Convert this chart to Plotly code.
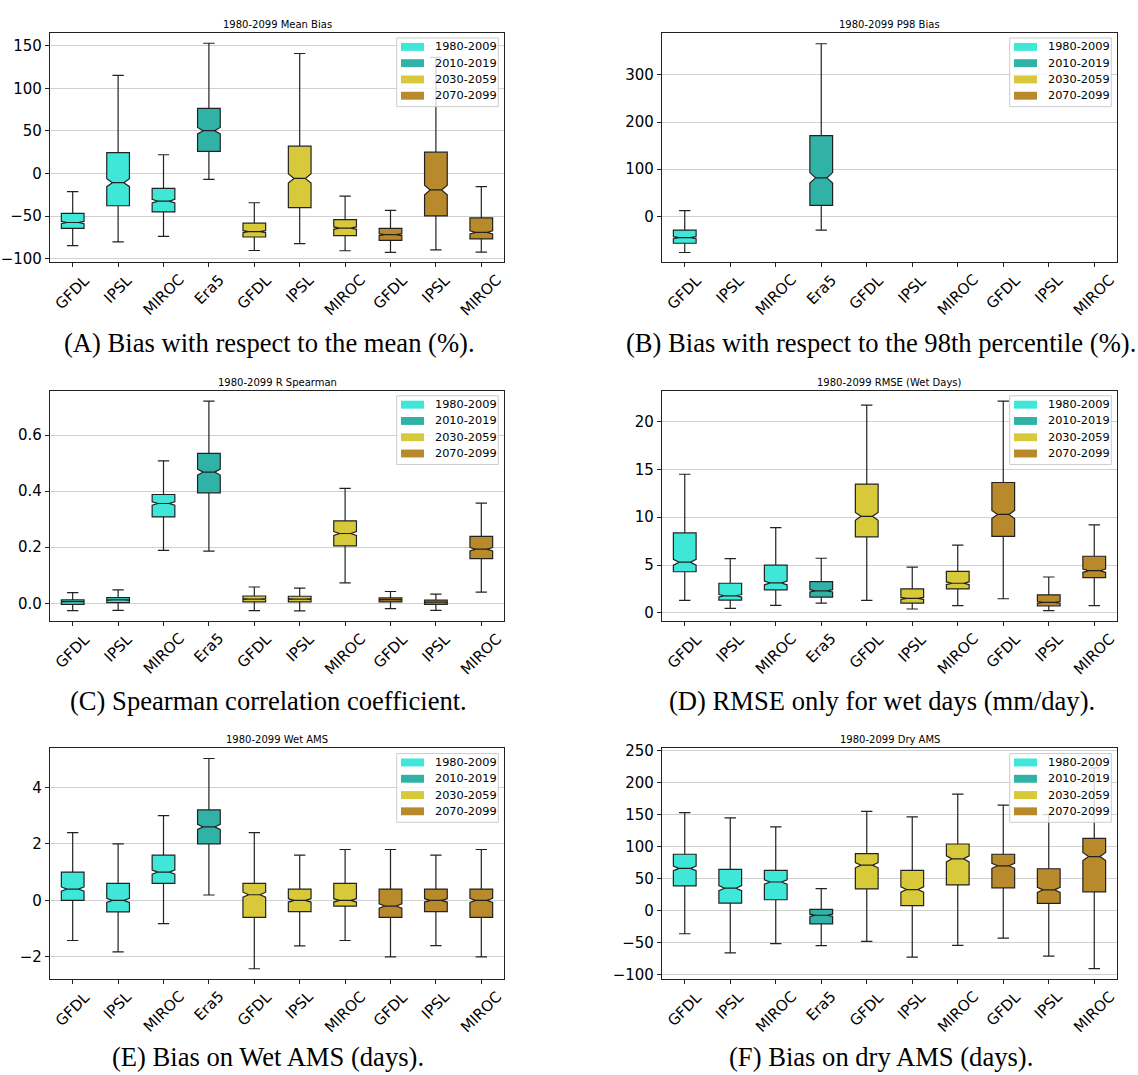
import math
import plotly.graph_objects as go

W, H = 1138, 1075

# ---------------------------------------------------------------- data
models = ["GFDL", "IPSL", "MIROC", "Era5", "GFDL", "IPSL", "MIROC", "GFDL", "IPSL", "MIROC"]
periods = ["1980-2009", "1980-2009", "1980-2009", "2010-2019",
           "2030-2059", "2030-2059", "2030-2059",
           "2070-2099", "2070-2099", "2070-2099"]
period_names = ["1980-2009", "2010-2019", "2030-2059", "2070-2099"]
period_colors = ["#3ee7d7", "#30b3a6", "#d8c93a", "#b98a2b"]

# number of grid points behind each box (used for the notch half-width)
n_samples = 440

# (A) mean bias (%)
mean_lo = [-84.7, -80.4, -73.8, -7.0, -90.5, -82.3, -90.8, -92.8, -89.7, -92.4]
mean_q1 = [-64.6, -37.9, -45.2, 25.9, -74.6, -40.2, -73.1, -78.5, -49.9, -76.9]
mean_med = [-57.6, -10.8, -32.5, 50.3, -68.4, -5.8, -64.2, -71.9, -19.3, -69.2]
mean_q3 = [-46.8, 24.4, -17.4, 76.5, -58.4, 32.1, -54.1, -64.6, 25.1, -52.2]
mean_hi = [-21.3, 115.2, 22.0, 153.0, -34.4, 141.0, -26.7, -43.3, 136.5, -15.5]

# (B) 98th percentile bias (%)
p98_lo = [-76.8, None, None, -29.3, None, None, None, None, None, None]
p98_q1 = [-57.2, None, None, 23.0, None, None, None, None, None, None]
p98_med = [-45.4, None, None, 81.6, None, None, None, None, None, None]
p98_q3 = [-29.3, None, None, 171.0, None, None, None, None, None, None]
p98_hi = [11.9, None, None, 366.0, None, None, None, None, None, None]

# (C) Spearman correlation
rho_lo = [-0.026, -0.025, 0.189, 0.186, -0.026, -0.027, 0.073, -0.019, -0.025, 0.040]
rho_q1 = [-0.004, 0.002, 0.308, 0.394, 0.005, 0.005, 0.205, 0.005, -0.004, 0.159]
rho_med = [0.006, 0.012, 0.356, 0.468, 0.015, 0.015, 0.249, 0.013, 0.004, 0.193]
rho_q3 = [0.012, 0.020, 0.388, 0.535, 0.026, 0.025, 0.294, 0.019, 0.011, 0.239]
rho_hi = [0.038, 0.048, 0.508, 0.721, 0.058, 0.054, 0.410, 0.042, 0.033, 0.357]

# (D) RMSE on wet days (mm/day)
rmse_lo = [1.31, 0.48, 0.79, 1.03, 1.31, 0.41, 0.76, 1.48, 0.24, 0.76]
rmse_q1 = [4.30, 1.34, 2.41, 1.65, 7.95, 1.03, 2.51, 7.99, 0.72, 3.68]
rmse_med = [5.30, 1.79, 3.13, 2.31, 10.09, 1.51, 3.10, 10.29, 1.10, 4.41]
rmse_q3 = [8.36, 3.10, 4.99, 3.27, 13.46, 2.51, 4.34, 13.63, 1.89, 5.92]
rmse_hi = [14.49, 5.68, 8.92, 5.71, 21.72, 4.78, 7.09, 22.13, 3.75, 9.19]

# (E) wet AMS bias (days)
wet_lo = [-1.42, -1.82, -0.82, 0.19, -2.42, -1.61, -1.42, -2.0, -1.6, -2.0]
wet_q1 = [0.0, -0.41, 0.6, 2.0, -0.6, -0.4, -0.2, -0.6, -0.4, -0.6]
wet_med = [0.4, 0.0, 1.0, 2.6, 0.2, 0.0, 0.0, -0.2, 0.0, 0.0]
wet_q3 = [1.0, 0.6, 1.6, 3.2, 0.6, 0.4, 0.6, 0.4, 0.4, 0.4]
wet_hi = [2.4, 2.0, 3.0, 5.02, 2.4, 1.6, 1.8, 1.8, 1.6, 1.8]

# (F) dry AMS bias (days)
dry_lo = [-36.1, -66.0, -51.5, -54.6, -47.9, -72.7, -54.1, -42.8, -71.1, -90.7]
dry_q1 = [38.7, 11.9, 17.0, -20.6, 34.0, 7.7, 40.2, 35.6, 11.3, 29.4]
dry_med = [66.0, 35.1, 44.8, -7.2, 71.1, 33.0, 80.9, 70.1, 32.5, 84.5]
dry_q3 = [88.1, 64.4, 62.9, 2.1, 89.2, 62.9, 104.1, 88.1, 65.5, 112.9]
dry_hi = [153.0, 144.8, 130.9, 34.5, 155.2, 146.4, 182.0, 165.0, 150.0, 223.0]

panel_titles = ["1980-2099 Mean Bias", "1980-2099 P98 Bias", "1980-2099 R Spearman",
                "1980-2099 RMSE (Wet Days)", "1980-2099 Wet AMS", "1980-2099 Dry AMS"]
captions = ["(A) Bias with respect to the mean (%).",
            "(B) Bias with respect to the 98th percentile (%).",
            "(C) Spearman correlation coefficient.",
            "(D) RMSE only for wet days (mm/day).",
            "(E) Bias on Wet AMS (days).",
            "(F) Bias on dry AMS (days)."]

panel_stats = [
    (mean_lo, mean_q1, mean_med, mean_q3, mean_hi),
    (p98_lo, p98_q1, p98_med, p98_q3, p98_hi),
    (rho_lo, rho_q1, rho_med, rho_q3, rho_hi),
    (rmse_lo, rmse_q1, rmse_med, rmse_q3, rmse_hi),
    (wet_lo, wet_q1, wet_med, wet_q3, wet_hi),
    (dry_lo, dry_q1, dry_med, dry_q3, dry_hi),
]

# ---------------------------------------------------------------- layout
# axes boxes in pixels: left, top, right, bottom
axes_px = [(50, 27, 504, 259), (662, 27, 1117, 259),
           (50, 388.5, 504, 621.5), (662, 388.5, 1117, 621.5),
           (50, 750, 504, 983), (662, 750, 1117, 983)]
y_ranges = [(-104.4, 165.4), (-97.7, 389.4), (-0.0637, 0.759),
            (-0.86, 23.24), (-2.78, 5.38), (-106.7, 253.6)]
y_ticks = [[-100, -50, 0, 50, 100, 150], [0, 100, 200, 300], [0.0, 0.2, 0.4, 0.6],
           [0, 5, 10, 15, 20], [-2, 0, 2, 4], [-100, -50, 0, 50, 100, 150, 200, 250]]
y_formats = ["", "", ".1f", "", "", ""]
caption_pos = [(269, 340), (881, 340), (268, 702), (882, 702), (268, 1062), (881, 1062)]


def px(x):
    return x / W


def py(y):
    return 1 - y / H


fig = go.Figure()
layout = dict(width=W, height=H, margin=dict(l=0, r=0, t=0, b=0), autosize=False,
              paper_bgcolor="white", plot_bgcolor="white", showlegend=False,
              boxmode="overlay", font=dict(family="DejaVu Sans", color="#000"))
annotations = []
shapes = []

for k, (stats, box) in enumerate(zip(panel_stats, axes_px), start=1):
    lo, q1, med, q3, hi = stats
    sfx = "" if k == 1 else str(k)
    xa, ya = "x" + sfx, "y" + sfx
    for pname, pcol in zip(period_names, period_colors):
        idx = [i for i in range(len(models)) if periods[i] == pname and med[i] is not None]
        if not idx:
            continue
        fig.add_trace(go.Box(
            x=idx,
            q1=[q1[i] for i in idx], median=[med[i] for i in idx], q3=[q3[i] for i in idx],
            lowerfence=[lo[i] for i in idx], upperfence=[hi[i] for i in idx],
            notchspan=[1.57 * (q3[i] - q1[i]) / math.sqrt(n_samples) for i in idx],
            notched=True, notchwidth=0.25, width=0.5, whiskerwidth=0.5,
            boxpoints=False, fillcolor=pcol, line=dict(color="#222222", width=1.2),
            name=pname, xaxis=xa, yaxis=ya, hoverinfo="skip",
        ))

    left, top, right, bottom = box
    layout["xaxis" + sfx] = dict(
        domain=[px(left), px(right)], anchor=ya, range=[-0.5, 9.5],
        tickmode="array", tickvals=list(range(len(models))), showticklabels=False,
        ticks="outside", ticklen=4, tickcolor="#222", showgrid=False, zeroline=False,
        showline=True, mirror=True, linecolor="#222", linewidth=1.2)
    layout["yaxis" + sfx] = dict(
        domain=[py(bottom), py(top)], anchor=xa, range=list(y_ranges[k - 1]),
        tickmode="array", tickvals=y_ticks[k - 1], tickformat=y_formats[k - 1],
        ticks="outside", ticklen=4, tickcolor="#222", tickfont=dict(size=15),
        showgrid=True, gridcolor="#d0d0d0", gridwidth=1.2, zeroline=False,
        showline=True, mirror=True, linecolor="#222", linewidth=1.2)

    # rotated category labels
    for i, m in enumerate(models):
        annotations.append(dict(
            x=i, y=0, xref=xa, yref=f"{ya} domain", text=m, showarrow=False,
            textangle=-45, xanchor="center", yanchor="top", yshift=-6,
            font=dict(size=15, family="DejaVu Sans")))

    # panel title
    annotations.append(dict(
        x=px((left + right) / 2), y=py(top - 8.5), xref="paper", yref="paper",
        text=panel_titles[k - 1], showarrow=False, xanchor="center", yanchor="middle",
        font=dict(size=10, family="DejaVu Sans")))

    # caption under the panel
    cx, cy = caption_pos[k - 1]
    annotations.append(dict(
        x=px(cx), y=py(cy), xref="paper", yref="paper", text=captions[k - 1],
        showarrow=False, xanchor="center", yanchor="middle",
        font=dict(size=26.6, family="Liberation Serif")))

    # legend frame and entries
    shapes.append(dict(
        type="rect", xref="paper", yref="paper", layer="above",
        x0=px(right - 107.3), x1=px(right - 5.7), y0=py(top + 74.7), y1=py(top + 5.3),
        fillcolor="rgba(255,255,255,0.8)", line=dict(color="#cccccc", width=1)))
    for j, (pname, pcol) in enumerate(zip(period_names, period_colors)):
        cyl = top + 14.3 + j * 16.45
        shapes.append(dict(
            type="rect", xref="paper", yref="paper", layer="above",
            x0=px(right - 103), x1=px(right - 80), y0=py(cyl + 4), y1=py(cyl - 4),
            fillcolor=pcol, line=dict(width=0)))
        annotations.append(dict(
            x=px(right - 71), y=py(cyl), xref="paper", yref="paper", text=pname,
            showarrow=False, xanchor="left", yanchor="middle",
            font=dict(size=11.3, family="DejaVu Sans")))

layout["annotations"] = annotations
layout["shapes"] = shapes
fig.update_layout(**layout)
fig.write_html("out.html")
